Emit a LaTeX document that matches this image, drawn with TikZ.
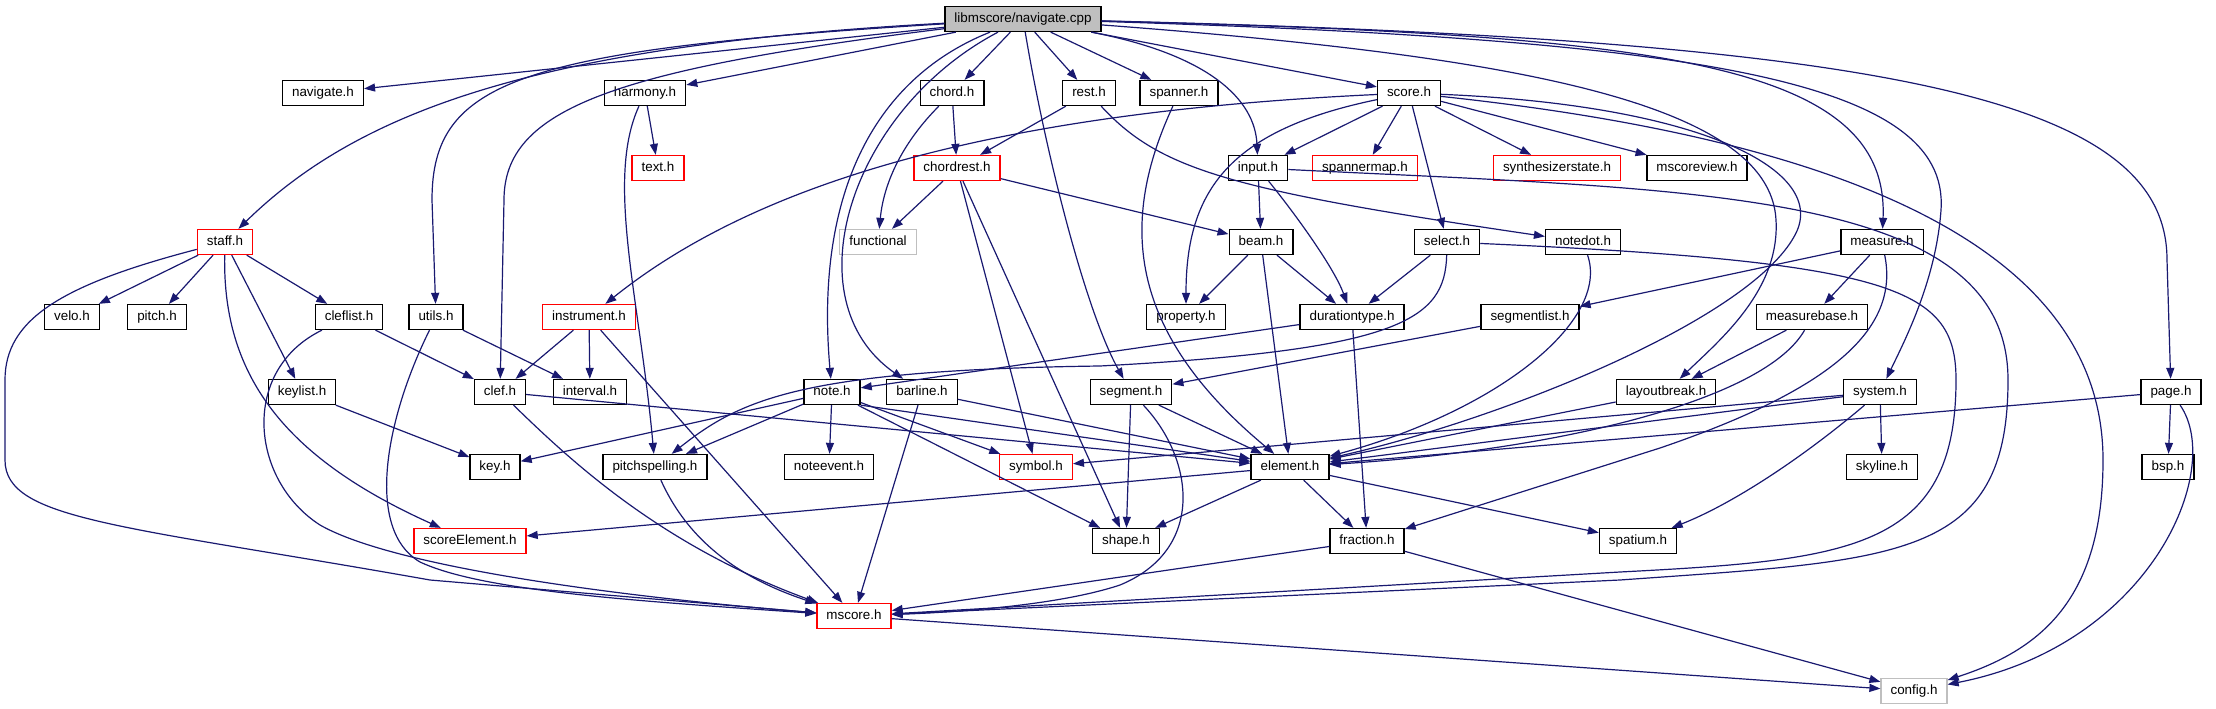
\documentclass[tikz,border=0pt]{standalone}
\usepackage{fontspec}
\setmainfont{Liberation Sans}
\usetikzlibrary{arrows.meta}
\definecolor{edgeblue}{HTML}{191970}
\definecolor{srcgray}{HTML}{BFBFBF}

\begin{document}
\begin{tikzpicture}[
    x=1pt, y=-1pt,
    hdr/.style={draw=black, fill=white, line width=1.3pt, rectangle, minimum height=25pt,
                inner xsep=9.5pt, inner ysep=0pt, text height=9.7pt, text depth=2.7pt,
                font=\fontsize{13.4pt}{16pt}\selectfont},
    src/.style={hdr, fill=srcgray},
    trunc/.style={hdr, draw=red},
    ext/.style={hdr, draw=srcgray},
    dep/.style={draw=edgeblue, line width=1.2pt, -{Triangle[length=11pt,width=8pt]}}
]
\useasboundingbox (0,0) rectangle (2216,709);

% ---- nodes (rows from top) ----
\node[src] (navcpp) at (1023,19) {libmscore/navigate.cpp};

\node[hdr] (navigate) at (323,93) {navigate.h};
\node[hdr] (harmony) at (645,93) {harmony.h};
\node[hdr] (chord) at (952,93) {chord.h};
\node[hdr] (rest) at (1089,93) {rest.h};
\node[hdr] (spanner) at (1179,93) {spanner.h};
\node[hdr] (score) at (1409,93) {score.h};

\node[trunc] (text) at (658,168) {text.h};
\node[trunc] (chordrest) at (957,168) {chordrest.h};
\node[hdr] (input) at (1258,168) {input.h};
\node[trunc] (spannermap) at (1365,168) {spannermap.h};
\node[trunc] (synth) at (1557,168) {synthesizerstate.h};
\node[hdr] (mscoreview) at (1697,168) {mscoreview.h};

\node[trunc] (staff) at (225,242) {staff.h};
\node[ext] (functional) at (878,242) {functional};
\node[hdr] (beam) at (1261,242) {beam.h};
\node[hdr] (select) at (1447,242) {select.h};
\node[hdr] (notedot) at (1583,242) {notedot.h};
\node[hdr] (measure) at (1882,242) {measure.h};

\node[hdr] (velo) at (72,317) {velo.h};
\node[hdr] (pitch) at (157,317) {pitch.h};
\node[hdr] (cleflist) at (349,317) {cleflist.h};
\node[hdr] (utils) at (436,317) {utils.h};
\node[trunc] (instrument) at (589,317) {instrument.h};
\node[hdr] (property) at (1186,317) {property.h};
\node[hdr] (durationtype) at (1352,317) {durationtype.h};
\node[hdr] (segmentlist) at (1530,317) {segmentlist.h};
\node[hdr] (measurebase) at (1812,317) {measurebase.h};

\node[hdr] (keylist) at (302,392) {keylist.h};
\node[hdr] (clef) at (500,392) {clef.h};
\node[hdr] (interval) at (590,392) {interval.h};
\node[hdr] (note) at (832,392) {note.h};
\node[hdr] (barline) at (922,392) {barline.h};
\node[hdr] (segment) at (1131,392) {segment.h};
\node[hdr] (layoutbreak) at (1666,392) {layoutbreak.h};
\node[hdr] (system) at (1880,392) {system.h};
\node[hdr] (page) at (2171,392) {page.h};

\node[hdr] (key) at (495,467) {key.h};
\node[hdr] (pitchspelling) at (655,467) {pitchspelling.h};
\node[hdr] (noteevent) at (829,467) {noteevent.h};
\node[trunc] (symbol) at (1036,467) {symbol.h};
\node[hdr] (element) at (1290,467) {element.h};
\node[hdr] (skyline) at (1882,467) {skyline.h};
\node[hdr] (bsp) at (2168,467) {bsp.h};

\node[trunc] (scoreElement) at (470,541) {scoreElement.h};
\node[hdr] (shape) at (1126,541) {shape.h};
\node[hdr] (fraction) at (1367,541) {fraction.h};
\node[hdr] (spatium) at (1638,541) {spatium.h};

\node[trunc] (mscore) at (854,616) {mscore.h};

\node[ext] (config) at (1914,691) {config.h};

% ---- edges from navigate.cpp ----
\draw[dep] (navcpp) -- (navigate);
\draw[dep] (navcpp) .. controls (540,45) and (360,110) .. (staff);
\draw[dep] (navcpp) .. controls (520,50) and (432,80) .. (432,200) -- (utils);
\draw[dep] (navcpp) .. controls (610,70) and (504,110) .. (504,200) -- (clef);
\draw[dep] (navcpp) -- (harmony);
\draw[dep] (navcpp) .. controls (870,80) and (815,200) .. (note);
\draw[dep] (navcpp) .. controls (850,110) and (790,300) .. (barline);
\draw[dep] (navcpp) -- (chord);
\draw[dep] (navcpp) .. controls (1045,150) and (1085,310) .. (segment);
\draw[dep] (navcpp) -- (rest);
\draw[dep] (navcpp) -- (spanner);
\draw[dep] (navcpp) .. controls (1210,55) and (1255,100) .. (input);
\draw[dep] (navcpp) -- (score);
\draw[dep] (navcpp) .. controls (1500,55) and (1770,100) .. (1776,220) .. controls (1780,290) and (1720,340) .. (layoutbreak);
\draw[dep] (navcpp) .. controls (1650,35) and (1890,60) .. (measure);
\draw[dep] (navcpp) .. controls (1700,40) and (1950,80) .. (1941,210) .. controls (1936,280) and (1905,340) .. (system);
\draw[dep] (navcpp) .. controls (1900,40) and (2167,100) .. (2167,260) -- (page);

% ---- second row ----
\draw[dep] (harmony) -- (text);
\draw[dep] (harmony) .. controls (605,180) and (640,300) .. (pitchspelling);
\draw[dep] (chord) -- (chordrest);
\draw[dep] (chord) .. controls (905,140) and (884,180) .. (functional);
\draw[dep] (rest) -- (chordrest);
\draw[dep] (rest) .. controls (1160,170) and (1230,190) .. (notedot);
\draw[dep] (spanner) .. controls (1120,220) and (1125,330) .. (element);

\draw[dep] (score) .. controls (1000,112) and (760,180) .. (instrument);
\draw[dep] (score) .. controls (1230,130) and (1186,190) .. (property);
\draw[dep] (score) -- (input);
\draw[dep] (score) -- (spannermap);
\draw[dep] (score) -- (select);
\draw[dep] (score) -- (synth);
\draw[dep] (score) -- (mscoreview);
\draw[dep] (score) .. controls (1700,105) and (1830,170) .. (1795,235) .. controls (1750,320) and (1500,420) .. (element);
\draw[dep] (score) .. controls (1850,140) and (2103,250) .. (2103,460) .. controls (2103,600) and (2040,650) .. (config);

% ---- third row ----
\draw[dep] (input) -- (beam);
\draw[dep] (input) .. controls (1300,220) and (1335,270) .. (durationtype);
\draw[dep] (input) .. controls (1700,190) and (2008,190) .. (2008,380) .. controls (2008,560) and (1900,560) .. (1620,580) -- (mscore);

\draw[dep] (chordrest) -- (functional);
\draw[dep] (chordrest) -- (beam);
\draw[dep] (chordrest) -- (symbol);
\draw[dep] (chordrest) -- (shape);

\draw[dep] (beam) -- (property);
\draw[dep] (beam) -- (durationtype);
\draw[dep] (beam) -- (element);

\draw[dep] (select) -- (durationtype);
\draw[dep] (select) .. controls (1445,320) and (1400,350) .. (1100,366) .. controls (800,370) and (740,400) .. (pitchspelling);
\draw[dep] (select) .. controls (1900,262) and (1956,290) .. (1956,380) .. controls (1956,550) and (1850,560) .. (1620,572) -- (mscore);

\draw[dep] (notedot) .. controls (1610,320) and (1500,410) .. (element);

\draw[dep] (measure) -- (segmentlist);
\draw[dep] (measure) -- (measurebase);
\draw[dep] (measure) .. controls (1900,330) and (1830,390) .. (1660,448) -- (fraction);

% ---- staff and its neighbours ----
\draw[dep] (staff) -- (velo);
\draw[dep] (staff) -- (pitch);
\draw[dep] (staff) -- (cleflist);
\draw[dep] (staff) -- (keylist);
\draw[dep] (staff) .. controls (222,380) and (290,460) .. (scoreElement);
\draw[dep] (staff) .. controls (60,285) and (5,320) .. (5,380) -- (5,460) .. controls (5,520) and (120,525) .. (430,580) -- (mscore);

\draw[dep] (cleflist) -- (clef);
\draw[dep] (cleflist) .. controls (240,370) and (250,480) .. (320,525) .. controls (390,565) and (600,595) .. (mscore);
\draw[dep] (utils) -- (interval);
\draw[dep] (utils) .. controls (385,420) and (365,530) .. (420,562) .. controls (480,590) and (620,600) .. (mscore);
\draw[dep] (instrument) -- (clef);
\draw[dep] (instrument) -- (interval);
\draw[dep] (instrument) -- (mscore);
\draw[dep] (keylist) -- (key);

% ---- fourth row ----
\draw[dep] (clef) -- (element);
\draw[dep] (clef) .. controls (570,460) and (660,545) .. (mscore);

\draw[dep] (note) -- (key);
\draw[dep] (note) -- (pitchspelling);
\draw[dep] (note) -- (noteevent);
\draw[dep] (note) -- (symbol);
\draw[dep] (note.south east) -- (element);
\draw[dep] (note) -- (shape);

\draw[dep] (barline) -- (element);
\draw[dep] (barline) -- (mscore);

\draw[dep] (segment) -- (element);
\draw[dep] (segment) -- (shape);
\draw[dep] (segment) .. controls (1195,460) and (1205,550) .. (1120,585) .. controls (1060,605) and (960,612) .. (mscore);

\draw[dep] (durationtype) -- (note);
\draw[dep] (durationtype) -- (fraction);
\draw[dep] (segmentlist) -- (segment);
\draw[dep] (measurebase) -- (layoutbreak);
\draw[dep] (measurebase) .. controls (1765,400) and (1560,450) .. (element);
\draw[dep] (layoutbreak) -- (element);

\draw[dep] (system) -- (symbol);
\draw[dep] (system) -- (element);
\draw[dep] (system) -- (skyline);
\draw[dep] (system) .. controls (1800,460) and (1730,505) .. (spatium);

\draw[dep] (page) -- (element);
\draw[dep] (page) -- (bsp);
\draw[dep] (page) .. controls (2225,470) and (2150,645) .. (config);

% ---- lower rows ----
\draw[dep] (pitchspelling) .. controls (690,545) and (745,580) .. (mscore);

\draw[dep] (element) -- (scoreElement);
\draw[dep] (element) -- (shape);
\draw[dep] (element) -- (fraction);
\draw[dep] (element) -- (spatium);

\draw[dep] (fraction) -- (mscore);
\draw[dep] (fraction) -- (config);
\draw[dep] (mscore) -- (config);

\end{tikzpicture}
\end{document}
